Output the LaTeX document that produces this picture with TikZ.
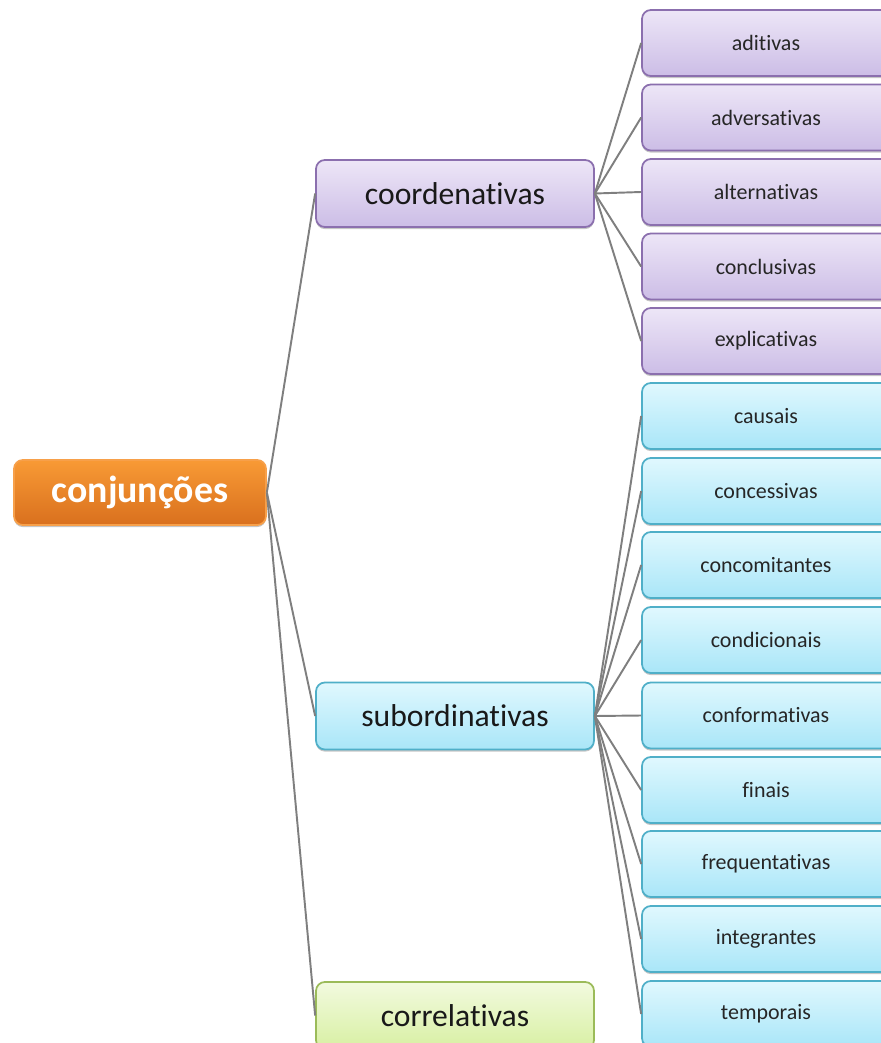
\documentclass[tikz,border=0pt]{standalone}
\usepackage{fontspec}
\setmainfont{Carlito}[Ligatures={NoCommon}]
\usetikzlibrary{shadows}

\definecolor{rootTop}{HTML}{F89A35}
\definecolor{rootBot}{HTML}{D9701E}
\definecolor{rootLine}{HTML}{F7A04A}
\definecolor{coordTop}{HTML}{EDE6F7}
\definecolor{coordBot}{HTML}{CCBDE6}
\definecolor{coordLine}{HTML}{8B6FAE}
\definecolor{subTop}{HTML}{E0F8FE}
\definecolor{subBot}{HTML}{A9E6F8}
\definecolor{subLine}{HTML}{4FAFC8}
\definecolor{corrTop}{HTML}{F2FADF}
\definecolor{corrBot}{HTML}{D8F0A3}
\definecolor{corrLine}{HTML}{9BBB59}
\definecolor{linkGray}{HTML}{7F7F7F}

\tikzset{
  box/.style={rounded corners=5pt, line width=1pt, align=center, inner sep=0pt,
    drop shadow={shadow xshift=0pt, shadow yshift=-1.2pt, opacity=0.45, fill=gray}},
  rootbox/.style={box, draw=rootLine, top color=rootTop, bottom color=rootBot,
    minimum width=5.04cm, minimum height=1.3cm, text=white, font=\fontsize{21.5}{24}\selectfont\bfseries},
  midbox/.style={box, minimum width=5.56cm, minimum height=1.34cm, text=black!90, font=\fontsize{18}{21}\selectfont},
  leafbox/.style={box, minimum width=4.96cm, minimum height=1.32cm, text=black!85, font=\fontsize{12.5}{15}\selectfont},
  coordbox/.style={draw=coordLine, top color=coordTop, bottom color=coordBot},
  subbox/.style={draw=subLine, top color=subTop, bottom color=subBot},
  corrbox/.style={draw=corrLine, top color=corrTop, bottom color=corrBot},
  link/.style={draw=linkGray, line width=1.1pt}
}

\begin{document}
\begin{tikzpicture}[x=0.02cm, y=-0.02cm]
    \useasboundingbox (0,0) rectangle (880,1043);

    % root
    \node [rootbox] (conj) at (140,492.5) {conjunções};

    % first level
    \node [midbox, coordbox] (coord) at (455,193.5) {coordenativas};
    \node [midbox, subbox] (sub) at (455,716) {subordinativas};
    \node [midbox, corrbox] (corr) at (455,1015.5) {correlativas};

    % coordenativas
    \node [leafbox, coordbox] (adit) at (766,43) {aditivas};
    \node [leafbox, coordbox] (adver) at (766,117.5) {adversativas};
    \node [leafbox, coordbox] (alter) at (766,192) {alternativas};
    \node [leafbox, coordbox] (concl) at (766,266.5) {conclusivas};
    \node [leafbox, coordbox] (expl) at (766,341) {explicativas};

    % subordinativas
    \node [leafbox, subbox] (caus) at (766,416) {causais};
    \node [leafbox, subbox] (conces) at (766,491) {concessivas};
    \node [leafbox, subbox] (concom) at (766,565) {concomitantes};
    \node [leafbox, subbox] (condic) at (766,640) {condicionais};
    \node [leafbox, subbox] (conform) at (766,715.5) {conformativas};
    \node [leafbox, subbox] (fin) at (766,790) {finais};
    \node [leafbox, subbox] (freq) at (766,864) {frequentativas};
    \node [leafbox, subbox] (integ) at (766,939) {integrantes};
    \node [leafbox, subbox] (temp) at (766,1014) {temporais};

    % links
    \draw [link] (conj.east) -- (coord.west);
    \draw [link] (conj.east) -- (sub.west);
    \draw [link] (conj.east) -- (corr.west);
    \draw [link] (coord.east) -- (adit.west);
    \draw [link] (coord.east) -- (adver.west);
    \draw [link] (coord.east) -- (alter.west);
    \draw [link] (coord.east) -- (concl.west);
    \draw [link] (coord.east) -- (expl.west);
    \draw [link] (sub.east) -- (caus.west);
    \draw [link] (sub.east) -- (conces.west);
    \draw [link] (sub.east) -- (concom.west);
    \draw [link] (sub.east) -- (condic.west);
    \draw [link] (sub.east) -- (conform.west);
    \draw [link] (sub.east) -- (fin.west);
    \draw [link] (sub.east) -- (freq.west);
    \draw [link] (sub.east) -- (integ.west);
    \draw [link] (sub.east) -- (temp.west);
\end{tikzpicture}
\end{document}
